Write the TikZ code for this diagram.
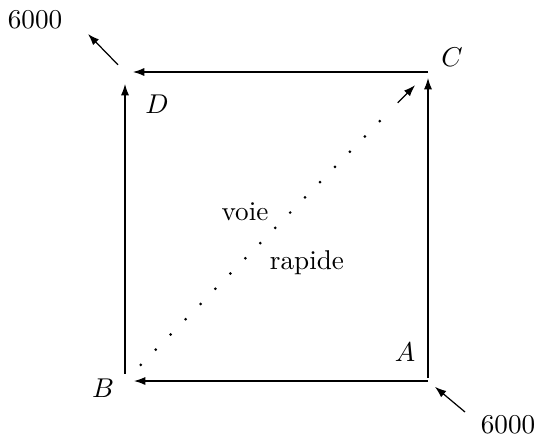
\documentclass[tikz,border=0pt]{standalone}
\usepackage{amsmath,amssymb}
\usepackage{tikz}
\usetikzlibrary{arrows.meta,positioning}

\begin{document}
\begin{tikzpicture}[
  x=0.368pt, y=0.368pt,
  arrow/.style={-{Latex[length=4.2pt,width=3pt]}, line width=0.45pt},
  dotline/.style={line width=1.1pt, line cap=round, dash pattern=on 0pt off 7.85pt},
  lab/.style={inner sep=1pt}
]
\useasboundingbox (0,0) rectangle (535,439);
% corners of the square
\coordinate (B) at (125,58);
\coordinate (A) at (428,58);
\coordinate (C) at (428,367);
\coordinate (D) at (125,367);
\coordinate (Dout) at (88,405);
\coordinate (Ain) at (465,27);
\node[lab] (lA) at (405,87) {$A$};
\node[lab] (lB) at (103,51) {$B$};
\node[lab] (lC) at (452,382) {$C$};
\node[lab] (lD) at (157,335) {$D$};
\node[lab] (nin) at (508,14) {6000};
\node[lab] (nout) at (35,419) {6000};
\node[lab] (voie) at (245,227) {voie};
\node[lab] (rapide) at (307,176) {rapide};
\draw[arrow, shorten >=3.3pt] (A) -- (B);
\draw[arrow, shorten <=1.1pt, shorten >=2.2pt] (A) -- (C);
\draw[arrow, shorten >=2.9pt] (C) -- (D);
\draw[arrow, shorten <=2.6pt, shorten >=4.4pt] (B) -- (D);
% voie rapide
\path (B) -- (C) coordinate[pos=0.9] (Cd);
\draw[dotline, shorten <=8.3pt, shorten >=7.5pt] (B) -- (Cd);
\draw[arrow, shorten >=6.8pt] (Cd) -- (C);
% flux entrant et sortant
\draw[arrow, shorten <=3.7pt] (D) -- (Dout);
\draw[arrow, shorten >=3.3pt] (Ain) -- (A);
\end{tikzpicture}
\end{document}
